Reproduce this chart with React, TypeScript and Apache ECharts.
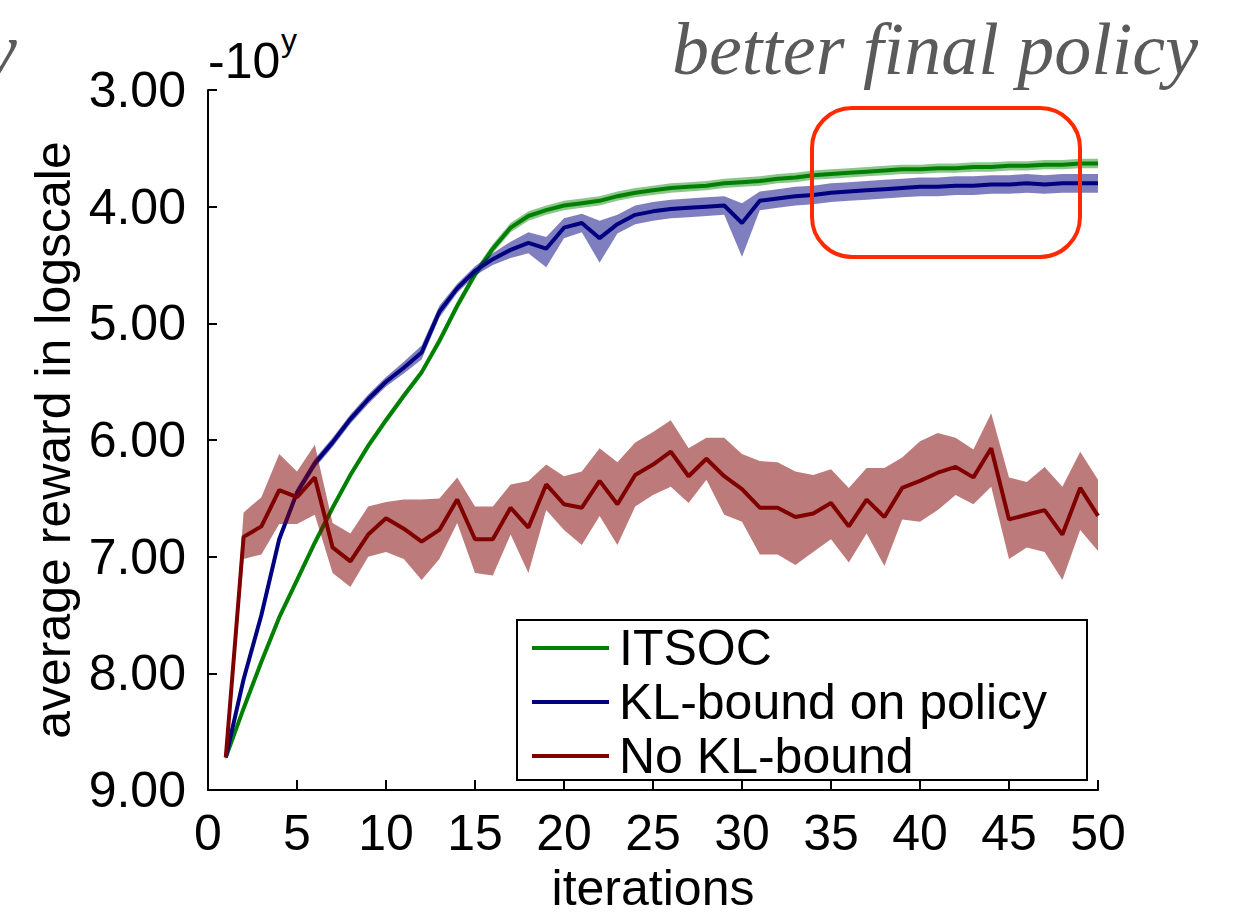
import React, { useEffect, useRef } from "react";
import * as echarts from "echarts";

const iterations = [1, 2, 3, 4, 5, 6, 7, 8, 9, 10, 11, 12, 13, 14, 15, 16, 17, 18, 19, 20, 21, 22, 23, 24, 25, 26, 27, 28, 29, 30, 31, 32, 33, 34, 35, 36, 37, 38, 39, 40, 41, 42, 43, 44, 45, 46, 47, 48, 49, 50];
const seriesNames = ["ITSOC", "KL-bound on policy", "No KL-bound"];
const xTicks = [0, 5, 10, 15, 20, 25, 30, 35, 40, 45, 50];
const yTicks = [3, 4, 5, 6, 7, 8, 9];

const itsocMean = [8.72, 8.3, 7.9, 7.52, 7.2, 6.88, 6.58, 6.3, 6.05, 5.83, 5.62, 5.42, 5.15, 4.85, 4.58, 4.36, 4.18, 4.08, 4.03, 3.99, 3.97, 3.95, 3.91, 3.88, 3.86, 3.84, 3.83, 3.82, 3.8, 3.79, 3.78, 3.76, 3.75, 3.73, 3.72, 3.71, 3.7, 3.69, 3.68, 3.68, 3.67, 3.67, 3.66, 3.66, 3.65, 3.65, 3.64, 3.64, 3.63, 3.63];
const itsocUpper = [8.7, 8.27, 7.87, 7.49, 7.17, 6.85, 6.55, 6.27, 6.02, 5.8, 5.59, 5.39, 5.11, 4.81, 4.54, 4.32, 4.14, 4.04, 3.99, 3.95, 3.93, 3.91, 3.87, 3.84, 3.82, 3.8, 3.79, 3.78, 3.76, 3.75, 3.74, 3.72, 3.71, 3.69, 3.68, 3.67, 3.66, 3.65, 3.64, 3.64, 3.63, 3.63, 3.62, 3.62, 3.61, 3.61, 3.6, 3.6, 3.59, 3.59];
const itsocLower = [8.74, 8.33, 7.93, 7.55, 7.23, 6.91, 6.61, 6.33, 6.08, 5.86, 5.65, 5.45, 5.19, 4.89, 4.62, 4.4, 4.22, 4.12, 4.07, 4.03, 4.01, 3.99, 3.95, 3.92, 3.9, 3.88, 3.87, 3.86, 3.84, 3.83, 3.82, 3.8, 3.79, 3.77, 3.76, 3.75, 3.74, 3.73, 3.72, 3.72, 3.71, 3.71, 3.7, 3.7, 3.69, 3.69, 3.68, 3.68, 3.67, 3.67];

const klMean = [8.72, 8.05, 7.5, 6.85, 6.45, 6.2, 6.02, 5.82, 5.65, 5.5, 5.38, 5.25, 4.9, 4.7, 4.55, 4.45, 4.37, 4.31, 4.36, 4.18, 4.14, 4.27, 4.15, 4.07, 4.04, 4.02, 4.01, 4.0, 3.99, 4.14, 3.95, 3.93, 3.91, 3.9, 3.88, 3.87, 3.86, 3.85, 3.84, 3.83, 3.83, 3.82, 3.82, 3.81, 3.81, 3.8, 3.81, 3.8, 3.8, 3.8];
const klUpper = [8.7, 8.02, 7.46, 6.81, 6.41, 6.16, 5.98, 5.78, 5.61, 5.46, 5.33, 5.19, 4.85, 4.66, 4.51, 4.4, 4.3, 4.22, 4.26, 4.1, 4.06, 4.12, 4.07, 3.99, 3.96, 3.94, 3.93, 3.92, 3.91, 3.97, 3.87, 3.85, 3.83, 3.82, 3.8, 3.79, 3.78, 3.77, 3.76, 3.75, 3.75, 3.74, 3.74, 3.73, 3.73, 3.72, 3.73, 3.72, 3.72, 3.72];
const klLower = [8.74, 8.08, 7.54, 6.89, 6.49, 6.24, 6.06, 5.86, 5.69, 5.54, 5.43, 5.31, 4.95, 4.74, 4.59, 4.5, 4.44, 4.4, 4.52, 4.27, 4.22, 4.48, 4.23, 4.15, 4.12, 4.1, 4.09, 4.08, 4.07, 4.43, 4.03, 4.01, 3.99, 3.98, 3.96, 3.95, 3.94, 3.93, 3.92, 3.91, 3.91, 3.9, 3.9, 3.89, 3.89, 3.88, 3.89, 3.88, 3.88, 3.88];

const noKlMean = [8.72, 6.83, 6.74, 6.43, 6.49, 6.32, 6.92, 7.04, 6.81, 6.67, 6.76, 6.87, 6.77, 6.51, 6.85, 6.85, 6.58, 6.75, 6.38, 6.55, 6.58, 6.35, 6.55, 6.3, 6.21, 6.1, 6.31, 6.16, 6.31, 6.42, 6.58, 6.58, 6.66, 6.63, 6.54, 6.74, 6.51, 6.66, 6.41, 6.35, 6.28, 6.23, 6.32, 6.07, 6.68, 6.64, 6.6, 6.81, 6.41, 6.65];
const noKlUpper = [8.7, 6.62, 6.49, 6.12, 6.27, 6.04, 6.71, 6.8, 6.57, 6.53, 6.51, 6.51, 6.5, 6.32, 6.57, 6.57, 6.38, 6.35, 6.21, 6.31, 6.27, 6.07, 6.19, 6.02, 5.93, 5.83, 6.07, 5.98, 5.98, 6.12, 6.18, 6.19, 6.27, 6.3, 6.25, 6.41, 6.24, 6.24, 6.15, 6.01, 5.94, 5.98, 6.08, 5.77, 6.32, 6.36, 6.23, 6.4, 6.1, 6.34];
const noKlLower = [8.74, 7.02, 6.98, 6.72, 6.72, 6.64, 7.14, 7.26, 7.0, 6.96, 7.02, 7.2, 7.02, 6.71, 7.14, 7.16, 6.81, 7.14, 6.6, 6.77, 6.9, 6.65, 6.9, 6.57, 6.47, 6.4, 6.54, 6.34, 6.64, 6.7, 6.98, 6.98, 7.07, 6.96, 6.85, 7.05, 6.8, 7.08, 6.68, 6.7, 6.6, 6.47, 6.55, 6.4, 7.02, 6.92, 6.96, 7.2, 6.77, 6.95];

const lineColors = ["#008000", "#000080", "#800000"];
const bandColors = ["rgba(0,128,0,0.45)", "rgba(0,0,128,0.5)", "rgba(128,0,0,0.52)"];

const SANS = "'Liberation Sans', Arial, Helvetica, sans-serif";
const SERIF = "'Liberation Serif', 'Times New Roman', serif";

export default function App() {
  const ref = useRef<HTMLDivElement>(null);
  useEffect(() => {
    const chart = echarts.init(ref.current!, null, { renderer: "svg" });
    const groups = [
      { mean: itsocMean, upper: itsocUpper, lower: itsocLower },
      { mean: klMean, upper: klUpper, lower: klLower },
      { mean: noKlMean, upper: noKlUpper, lower: noKlLower },
    ];
    const series: any[] = [];
    groups.forEach((g, k) => {
      series.push({
        type: "custom",
        data: iterations.map((x, i) => [x, g.upper[i], g.lower[i]]),
        encode: { x: 0, y: [1, 2] },
        silent: true,
        z: 2 + k * 2,
        renderItem: (params: any, api: any) => {
          if (params.dataIndex !== 0) return null;
          const pts: number[][] = [];
          for (let i = 0; i < iterations.length; i++) pts.push(api.coord([iterations[i], g.upper[i]]));
          for (let i = iterations.length - 1; i >= 0; i--) pts.push(api.coord([iterations[i], g.lower[i]]));
          return { type: "polygon", shape: { points: pts }, style: { fill: bandColors[k], stroke: "none" } };
        },
      });
      series.push({
        type: "line",
        name: seriesNames[k],
        data: iterations.map((x, i) => [x, g.mean[i]]),
        symbol: "none",
        lineStyle: { color: lineColors[k], width: 4 },
        z: 3 + k * 2,
      });
    });

    const legendX = 517, legendY = 620, rowH = 54;
    const legendEls: any[] = [
      {
        type: "rect",
        shape: { x: legendX, y: legendY, width: 570, height: 160 },
        style: { fill: "#fff", stroke: "#000", lineWidth: 2 },
        z: 100,
      },
    ];
    seriesNames.forEach((n, k) => {
      const cy = legendY + 28 + k * rowH;
      legendEls.push({
        type: "line",
        shape: { x1: 532, y1: cy, x2: 609, y2: cy },
        style: { stroke: lineColors[k], lineWidth: 4 },
        z: 101,
      });
      legendEls.push({
        type: "text",
        x: 619,
        y: cy,
        style: { text: n, font: `50px ${SANS}`, fill: "#000", verticalAlign: "middle", align: "left" },
        z: 101,
      });
    });

    chart.setOption({
      animation: false,
      backgroundColor: "#fff",
      grid: { left: 208, right: 136, top: 90, bottom: 127, containLabel: false },
      xAxis: {
        type: "value",
        min: xTicks[0],
        max: xTicks[xTicks.length - 1],
        interval: 5,
        name: "iterations",
        nameLocation: "middle",
        nameGap: 69,
        nameTextStyle: { fontSize: 50, fontFamily: SANS, color: "#000" },
        axisLine: { show: true, lineStyle: { color: "#000", width: 2 } },
        axisTick: { show: true, inside: true, length: 10, lineStyle: { color: "#000", width: 2 } },
        axisLabel: { fontSize: 50, fontFamily: SANS, color: "#000", margin: 18 },
        splitLine: { show: false },
      },
      yAxis: {
        type: "value",
        inverse: true,
        min: yTicks[0],
        max: yTicks[yTicks.length - 1],
        interval: 1,
        name: "average reward in logscale",
        nameLocation: "middle",
        nameRotate: 90,
        nameGap: 117,
        nameTextStyle: { fontSize: 50, fontFamily: SANS, color: "#000" },
        axisLine: { show: true, onZero: false, lineStyle: { color: "#000", width: 2 } },
        axisTick: { show: true, inside: true, length: 9, lineStyle: { color: "#000", width: 2 } },
        axisLabel: { fontSize: 50, fontFamily: SANS, color: "#000", margin: 22, formatter: (v: number) => v.toFixed(2) },
        splitLine: { show: false },
      },
      series,
      graphic: [
        ...legendEls,
        {
          type: "text",
          x: 208,
          y: 86,
          style: { text: "-10", font: `50px ${SANS}`, fill: "#000", verticalAlign: "bottom" },
          z: 50,
        },
        {
          type: "text",
          x: 281,
          y: 56,
          style: { text: "y", font: `32px ${SANS}`, fill: "#000", verticalAlign: "bottom" },
          z: 50,
        },
        {
          type: "text",
          x: 1198,
          y: 12,
          style: { text: "better final policy", font: `italic 74px ${SERIF}`, fill: "#5a5a5a", align: "right", verticalAlign: "top" },
          z: 50,
        },
        {
          type: "text",
          x: -16,
          y: 12,
          style: { text: "y", font: `italic 74px ${SERIF}`, fill: "#5a5a5a", align: "left", verticalAlign: "top" },
          z: 50,
        },
        {
          type: "rect",
          shape: { x: 812, y: 108, width: 268, height: 149, r: 40 },
          style: { fill: "none", stroke: "#ff2a00", lineWidth: 4 },
          z: 60,
        },
      ],
    });
    return () => chart.dispose();
  }, []);
  return <div ref={ref} style={{ position: "fixed", left: 0, top: 0, width: 1234, height: 918 }} />;
}
